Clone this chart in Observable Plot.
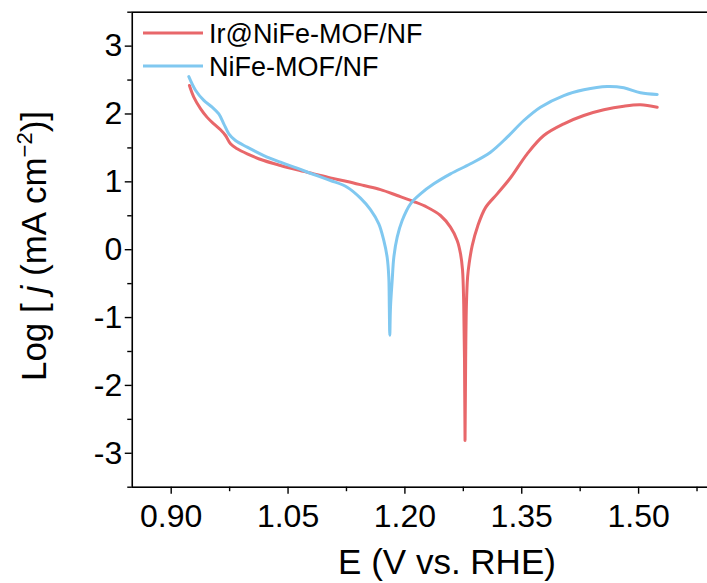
<!DOCTYPE html>
<html><head><meta charset="utf-8">
<script src="https://cdn.jsdelivr.net/npm/d3@7"></script>
<script src="https://cdn.jsdelivr.net/npm/@observablehq/plot@0.6"></script>
<style>
html,body{margin:0;padding:0;background:#fff;overflow:hidden;}
</style></head><body><div id="chart"></div>
<script>
const seriesNames = ["Ir@NiFe-MOF/NF", "NiFe-MOF/NF"];
const seriesColors = ["#e8676a", "#80c8f0"];

const irE = [0.9234, 0.9290, 0.9376, 0.9462, 0.9547, 0.9633, 0.9697, 0.9761, 0.9847, 0.9976, 1.0189, 1.0403, 1.0617, 1.0831, 1.1045, 1.1259, 1.1472, 1.1687, 1.1901, 1.2114, 1.2286, 1.2457, 1.2585, 1.2671, 1.2714, 1.2740, 1.2755, 1.2765, 1.2772, 1.2780, 1.2790, 1.2805, 1.2825, 1.2864, 1.2935, 1.3035, 1.3185, 1.3356, 1.3570, 1.3783, 1.4040, 1.4296, 1.4553, 1.4810, 1.5024, 1.5239];
const irLog = [2.42, 2.25, 2.08, 1.95, 1.855, 1.767, 1.683, 1.56, 1.487, 1.413, 1.314, 1.241, 1.177, 1.118, 1.059, 1.005, 0.946, 0.885, 0.799, 0.710, 0.626, 0.504, 0.332, 0.136, -0.06, -0.30, -0.8, -1.6, -2.81, -1.6, -0.8, -0.40, -0.20, 0.06, 0.35, 0.62, 0.823, 1.06, 1.413, 1.683, 1.855, 1.978, 2.062, 2.115, 2.135, 2.10];

const niE = [0.9226, 0.9312, 0.9419, 0.9526, 0.9611, 0.9675, 0.9740, 0.9825, 0.9976, 1.0189, 1.0403, 1.0617, 1.0831, 1.1045, 1.1259, 1.1430, 1.1558, 1.1665, 1.1729, 1.1772, 1.1793, 1.1800, 1.1806, 1.1815, 1.1837, 1.1858, 1.1901, 1.1965, 1.2072, 1.2200, 1.2371, 1.2585, 1.2842, 1.3099, 1.3313, 1.3526, 1.3740, 1.4040, 1.4296, 1.4597, 1.4810, 1.5024, 1.5239];
const niLog = [2.55, 2.35, 2.20, 2.10, 2.00, 1.855, 1.708, 1.609, 1.511, 1.388, 1.29, 1.201, 1.108, 1.02, 0.921, 0.76, 0.59, 0.381, 0.136, -0.11, -0.40, -0.85, -1.26, -0.85, -0.45, -0.11, 0.184, 0.43, 0.676, 0.823, 0.971, 1.118, 1.266, 1.437, 1.658, 1.904, 2.10, 2.272, 2.356, 2.405, 2.386, 2.312, 2.287];

const xTicks = [0.90, 1.05, 1.20, 1.35, 1.50];
const xTickLabels = ["0.90", "1.05", "1.20", "1.35", "1.50"];
const xMinor = [0.975, 1.125, 1.275, 1.425, 1.575];
const yTicks = [-3, -2, -1, 0, 1, 2, 3];
const yTickLabels = ["-3", "-2", "-1", "0", "1", "2", "3"];
const yMinor = [-3.5, -2.5, -1.5, -0.5, 0.5, 1.5, 2.5, 3.5];
const xDomain = [0.85, 1.60];
const yDomain = [-3.5, 3.5];
const xTitle = "E (V vs. RHE)";

const rows = [
  ...irE.map((e, i) => ({E: e, L: irLog[i], s: seriesNames[0]})),
  ...niE.map((e, i) => ({E: e, L: niLog[i], s: seriesNames[1]}))
];

const font = "'Liberation Sans', Arial, Helvetica, sans-serif";
const W = 707, H = 583;
const mL = 131.75, mR = -9, mT = 11.7, mB = 96.3;

const plot = Plot.plot({
  width: W, height: H,
  marginLeft: mL, marginRight: mR, marginTop: mT, marginBottom: mB,
  style: {fontFamily: font, background: "#fff", color: "#000"},
  x: {domain: xDomain},
  y: {domain: yDomain},
  color: {domain: seriesNames, range: seriesColors},
  marks: [
    Plot.line(rows, {x: "E", y: "L", z: "s", stroke: "s", strokeWidth: 3, curve: "catmull-rom"}),
    Plot.frame({stroke: "#000", strokeWidth: 1.6}),
    Plot.axisX(xTicks, {tickSize: 7, tickPadding: 10, fontSize: 32, strokeWidth: 1.4, label: null,
      tickFormat: d => xTickLabels[xTicks.indexOf(d)]}),
    Plot.axisX(xMinor, {tickSize: 4.5, strokeWidth: 1.4, label: null, tickFormat: () => ""}),
    Plot.axisY(yTicks, {tickSize: 7, tickPadding: 3, fontSize: 32, strokeWidth: 1.4, label: null,
      tickFormat: d => yTickLabels[yTicks.indexOf(d)]}),
    Plot.axisY(yMinor, {tickSize: 4.5, strokeWidth: 1.4, label: null, tickFormat: () => ""})
  ]
});

const svg = d3.select(plot);
const color = plot.scale("color");

// x title
svg.append("text")
  .attr("x", 447).attr("y", 574)
  .attr("text-anchor", "middle")
  .attr("font-family", font).attr("font-size", 35).attr("fill", "#000")
  .text(xTitle);

// y title with italic j and superscript
const yt = svg.append("text")
  .attr("transform", "translate(46,246) rotate(-90)")
  .attr("text-anchor", "middle")
  .attr("font-family", font).attr("font-size", 35).attr("fill", "#000");
yt.append("tspan").text("Log [ ");
yt.append("tspan").attr("font-style", "italic").text("j");
yt.append("tspan").text(" (mA cm");
yt.append("tspan").attr("font-size", 22).attr("dy", -14).text("\u22122");
yt.append("tspan").attr("dy", 14).text(")]");

// legend
const lg = svg.append("g").attr("font-family", font).attr("font-size", 27).attr("text-anchor", "start");
seriesNames.forEach((name, i) => {
  const y = 33 + i * 33;
  lg.append("line").attr("x1", 143).attr("x2", 203).attr("y1", y).attr("y2", y)
    .attr("stroke", color.apply(name)).attr("stroke-width", 3);
  lg.append("text").attr("x", 209).attr("y", y).attr("dy", "0.36em").attr("fill", "#000").text(name);
});

document.getElementById("chart").appendChild(plot);
</script>
</body></html>
